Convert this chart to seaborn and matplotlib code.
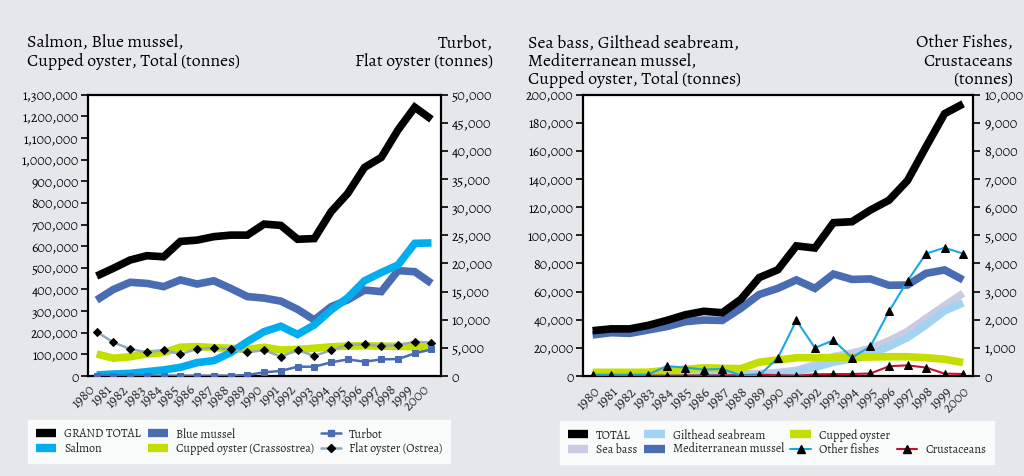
import numpy as np
import pandas as pd
import matplotlib
matplotlib.use("Agg")
import matplotlib.pyplot as plt
import seaborn as sns
from matplotlib.lines import Line2D
from matplotlib.ticker import FuncFormatter

sns.set_style("white")
plt.rcParams["font.family"] = ["Alegreya", "Liberation Serif", "DejaVu Serif"]

years = list(range(1980, 2001))

# ---- left chart: left axis (tonnes)
grand_total = [462000, 498000, 536000, 556000, 551000, 622000, 628000, 644000, 651000, 651000,
               702000, 696000, 632000, 635000, 759000, 844000, 964000, 1010000, 1137000, 1242000, 1186000]
salmon = [4600, 9000, 12000, 20000, 28000, 40000, 62000, 71000, 108000, 159000,
          205000, 230000, 192000, 236000, 305000, 362000, 440000, 478000, 513000, 613000, 615000]
blue_mussel = [351000, 400000, 433000, 428000, 413000, 444000, 425000, 440000, 405000, 367000,
               360000, 346000, 308000, 259000, 320000, 352000, 397000, 390000, 487000, 482000, 428000]
cupped_oyster_l = [102000, 82000, 89000, 102000, 108000, 133000, 136000, 131000, 128000, 123000,
                   133000, 120000, 123000, 128000, 135000, 138000, 140000, 138000, 137000, 135000, 130000]
# ---- left chart: right axis (tonnes)
turbot = [20, 20, 30, 30, 40, 40, 50, 50, 60, 177,
          650, 900, 1650, 1650, 2420, 2950, 2540, 2950, 3010, 4020, 4730]
flat_oyster = [7860, 5970, 4790, 4200, 4610, 3900, 4790, 5020, 4730, 4200,
               4610, 3430, 4610, 3550, 4610, 5500, 5620, 5320, 5500, 6090, 5910]

# ---- right chart: left axis
total_r = [32200, 33500, 33500, 36000, 39500, 43500, 46000, 45000, 54500, 70000,
           75500, 92500, 91000, 109000, 109700, 118000, 125000, 139000, 163000, 186500, 193500]
sea_bass = [300, 350, 400, 500, 600, 800, 1000, 1200, 1500, 1800,
            2500, 4000, 8000, 13800, 16300, 19700, 25000, 31700, 41000, 50000, 58800]
gilthead = [100, 100, 150, 200, 250, 300, 400, 500, 600, 700,
            1000, 3000, 6000, 9800, 12200, 15600, 20900, 27300, 36300, 46300, 52000]
med_mussel = [29200, 30800, 30300, 32700, 35100, 38600, 39800, 39500, 48100, 58000,
              62300, 68300, 62300, 72500, 68700, 69000, 64500, 64700, 73000, 75400, 68300]
cupped_oyster_r = [2600, 2600, 2600, 2700, 4000, 4700, 5800, 5500, 5200, 9800,
                   11400, 13000, 13000, 13100, 13300, 13500, 13700, 13700, 13000, 11900, 9600]
# ---- right chart: right axis
other_fishes = [50, 50, 50, 50, 350, 300, 230, 250, 25, 25,
                640, 1980, 1000, 1270, 654, 1056, 2300, 3380, 4350, 4560, 4350]
crustaceans = [10, 10, 10, 10, 10, 15, 15, 20, 30, 50,
               30, 10, 60, 70, 70, 90, 345, 380, 300, 85, 70]

year_labels = [str(y) for y in years]

BG = "#e6e7eb"
BLACK = "#000000"
CYAN = "#00aeef"
STEEL = "#4a6cb3"
LIME = "#c4de00"
FLATLINE = "#93abbd"
LAVENDER = "#c9cbe3"
LIGHTBLUE = "#a3d3f2"
OTHERBLUE = "#1aa7e3"
RED = "#c8102e"

fig = plt.figure(figsize=(10.24, 4.76), dpi=100, facecolor=BG)

W, H = 1024, 476
axL = fig.add_axes([88.3 / W, 1 - 376 / H, 352.4 / W, 281.3 / H])
axR = fig.add_axes([583.3 / W, 1 - 376 / H, 390 / W, 281.3 / H])


def thick(ax, y, color, lw=5.5, z=2):
    sns.lineplot(x=years, y=y, ax=ax, color=color, linewidth=lw, zorder=z,
                 solid_joinstyle="miter", solid_capstyle="butt")


def thin(ax, y, color, marker, ms, lw=1.5, mfc="black", mec="black", z=3):
    sns.lineplot(x=years, y=y, ax=ax, color=color, linewidth=lw, zorder=z,
                 marker=marker, markersize=ms, markerfacecolor=mfc, markeredgecolor=mec)


fmt = FuncFormatter(lambda v, p: f"{int(v):,}")
TICK_FS = 10

# ---------- Left chart ----------
thick(axL, cupped_oyster_l, LIME)
thick(axL, blue_mussel, STEEL)
thick(axL, salmon, CYAN)
thick(axL, grand_total, BLACK)
axL.set_ylim(0, 1300000)
axL.set_yticks(np.arange(0, 1300001, 100000))

axL2 = axL.twinx()
thin(axL2, flat_oyster, FLATLINE, "D", 4.5, lw=1.8)
thin(axL2, turbot, STEEL, "s", 5, lw=1.8, mfc=STEEL, mec=STEEL)
axL2.set_ylim(0, 50000)
axL2.set_yticks(np.arange(0, 50001, 5000))

# ---------- Right chart ----------
thick(axR, sea_bass, LAVENDER)
thick(axR, gilthead, LIGHTBLUE)
thick(axR, med_mussel, STEEL)
thick(axR, total_r, BLACK)
thick(axR, cupped_oyster_r, LIME)
axR.set_ylim(0, 200000)
axR.set_yticks(np.arange(0, 200001, 20000))

axR2 = axR.twinx()
thin(axR2, crustaceans, RED, "^", 5.5, lw=1.5)
thin(axR2, other_fishes, OTHERBLUE, "^", 5.5, lw=1.5)
axR2.set_ylim(0, 10000)
axR2.set_yticks(np.arange(0, 10001, 1000))

for ax in (axL, axR):
    ax.set_facecolor("white")
    ax.set_xlim(1979.5, 2000.55)
    ax.yaxis.set_major_formatter(fmt)
    ax.set_xlabel("")
    ax.set_ylabel("")
    ax.tick_params(axis="y", which="major", direction="out", length=5, width=1.2,
                   labelsize=TICK_FS, pad=2, colors="black")
for ax in (axL2, axR2):
    ax.yaxis.set_major_formatter(fmt)
    ax.set_ylabel("")
    ax.tick_params(axis="y", which="major", direction="out", length=5, width=1.2,
                   labelsize=TICK_FS + 0.3, pad=3, colors="black")
    for s in ax.spines.values():
        s.set_visible(False)

for ax in (axL, axR):
    for s in ax.spines.values():
        s.set_visible(True)
        s.set_color("black")
        s.set_linewidth(1.6)

# x ticks: tick marks at category boundaries, labels rotated
axL.set_xticks([y - 0.5 for y in years])
axL.set_xticklabels(year_labels)
axL.tick_params(axis="x", which="major", direction="inout", length=7, width=1.2,
                labelsize=TICK_FS + 0.5, pad=1)
for lab in axL.get_xticklabels():
    lab.set_rotation(45)
    lab.set_ha("right")
    lab.set_rotation_mode("anchor")

axR.set_xticks([y - 0.5 for y in years] + [2000.5])
axR.set_xticklabels([""] * 22)
axR.tick_params(axis="x", which="major", direction="inout", length=7, width=1.2)
axR.set_xticks(years, minor=True)
axR.set_xticklabels(year_labels, minor=True)
axR.tick_params(axis="x", which="minor", length=0, labelsize=TICK_FS + 0.5, pad=6)
for lab in axR.get_xticklabels(minor=True):
    lab.set_rotation(45)
    lab.set_ha("right")
    lab.set_rotation_mode("anchor")

# ---------- Titles ----------
tkw = dict(fontsize=12.8, va="top", linespacing=1.07, color="black")
fig.text(27 / W, 1 - 35 / H, "Salmon, Blue mussel,\nCupped oyster, Total (tonnes)", ha="left", **tkw)
fig.text(493 / W, 1 - 35 / H, "Turbot,\nFlat oyster (tonnes)", ha="right", multialignment="right", **tkw)
fig.text(528 / W, 1 - 35 / H, "Sea bass, Gilthead seabream,\nMediterranean mussel,\nCupped oyster, Total (tonnes)",
         ha="left", **tkw)
fig.text(1013 / W, 1 - 35 / H, "Other Fishes,\nCrustaceans\n(tonnes)", ha="right", multialignment="right", **tkw)


# ---------- Legends ----------
def bar(c):
    return Line2D([0], [0], color=c, linewidth=6, solid_capstyle="butt")


lkw = dict(loc="upper left", frameon=True, fancybox=False, fontsize=8.7, handlelength=1.7,
           handletextpad=0.65, columnspacing=0.55, borderpad=0.65, labelspacing=0.12, borderaxespad=0)

hL = [bar(BLACK), bar(CYAN), bar(STEEL), bar(LIME),
      Line2D([0], [0], color=STEEL, lw=1.8, marker="s", ms=5, mfc=STEEL, mec=STEEL),
      Line2D([0], [0], color=FLATLINE, lw=1.8, marker="D", ms=4.5, mfc="black", mec="black")]
lL = ["GRAND TOTAL", "Salmon", "Blue mussel", "Cupped oyster (Crassostrea)", "Turbot", "Flat oyster (Ostrea)"]
legL = fig.legend(hL, lL, bbox_to_anchor=(28 / W, 1 - 420 / H), ncol=3, **lkw)
legL.get_frame().set_facecolor("white")
legL.get_frame().set_edgecolor("white")

blank = Line2D([0], [0], color="none", lw=0)
hR = [bar(BLACK), bar(LAVENDER), bar(LIGHTBLUE), bar(STEEL), bar(LIME),
      Line2D([0], [0], color=OTHERBLUE, lw=1.5, marker="^", ms=5.5, mfc="black", mec="black"),
      blank,
      Line2D([0], [0], color=RED, lw=1.5, marker="^", ms=5.5, mfc="black", mec="black")]
lR = ["TOTAL", "Sea bass", "Gilthead seabream", "Mediterranean mussel", "Cupped oyster", "Other fishes",
      "", "Crustaceans"]
legR = fig.legend(hR, lR, bbox_to_anchor=(560 / W, 1 - 421 / H), ncol=4, **lkw)
legR.get_frame().set_facecolor("white")
legR.get_frame().set_edgecolor("white")

fig.savefig("out.png", dpi=100, facecolor=BG)
